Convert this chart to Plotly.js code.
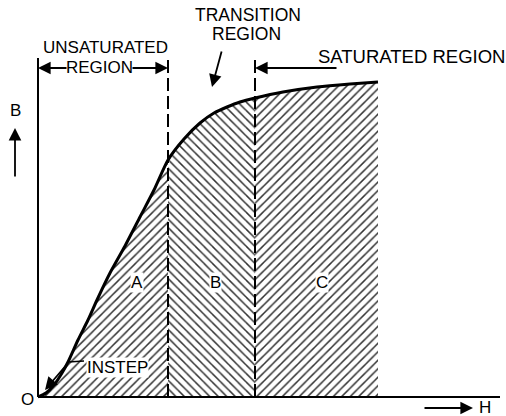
<!DOCTYPE html>
<html>
<head>
<meta charset="utf-8">
<script src="https://cdn.plot.ly/plotly-3.0.1.min.js"></script>
<style>html,body{margin:0;padding:0;background:#fff;}#chart{width:506px;height:416px;}</style>
</head>
<body>
<div id="chart"></div>
<script>
// Magnetization (B-H) curve, arbitrary units
const H = [0, 8, 16, 24, 30, 40, 50, 59, 72, 87, 102, 116, 130, 146, 162, 176, 189, 202, 217, 245, 279, 312, 340];
const B = [0, 4, 12, 24, 35, 57, 77, 97, 124, 151, 180, 207, 237, 258, 274, 284, 290, 295, 299, 305, 310, 313, 315];

// Region boundaries along H
const regionBounds = [0, 130, 217, 340];
const regionLetters = ['A', 'B', 'C'];
const regionHatch = ['/', '\\', '/'];

const FONT = 'Liberation Sans, Arial, sans-serif';
const traces = [];
for (let i = 0; i < 3; i++) {
  const lo = regionBounds[i], hi = regionBounds[i + 1];
  const xs = [], ys = [];
  H.forEach((h, k) => { if (h >= lo && h <= hi) { xs.push(h); ys.push(B[k]); } });
  traces.push({
    x: xs, y: ys, type: 'scatter', mode: 'none', fill: 'tozeroy',
    line: {shape: 'spline', smoothing: 0.6},
    fillcolor: '#ffffff',
    fillpattern: {shape: regionHatch[i], fgcolor: '#333', bgcolor: '#fff', size: 6, solidity: 0.25, fillmode: 'replace'},
    hoverinfo: 'skip'
  });
}
traces.push({
  x: H, y: B, type: 'scatter', mode: 'lines',
  line: {color: '#000', width: 3, shape: 'spline', smoothing: 0.6},
  hoverinfo: 'skip'
});

const topB = 339;
const shapes = [
  {type: 'line', x0: 0, x1: 0, y0: 0, y1: topB, line: {color: '#000', width: 2}},
  {type: 'line', x0: 0, x1: 462, y0: 0, y1: 0, line: {color: '#000', width: 2}},
  {type: 'line', x0: regionBounds[1], x1: regionBounds[1], y0: 0, y1: topB, line: {color: '#000', width: 2, dash: '13px,5px'}},
  {type: 'line', x0: regionBounds[2], x1: regionBounds[2], y0: 0, y1: topB, line: {color: '#000', width: 2, dash: '13px,5px'}},
  {type: 'line', x0: 30, x1: 46, y0: 35, y1: 36, line: {color: '#000', width: 1.5}}
];

function txt(x, y, t, size, bg) {
  return {x: x, y: y, xref: 'x', yref: 'y', text: t, showarrow: false,
    font: {family: FONT, size: size || 17, color: '#000'},
    bgcolor: bg || 'rgba(0,0,0,0)', borderpad: 0, xanchor: 'center', yanchor: 'middle'};
}
function arr(x, y, ax, ay) {
  return {x: x, y: y, ax: ax, ay: ay, xref: 'x', yref: 'y', axref: 'x', ayref: 'y',
    text: '', showarrow: true, arrowhead: 2, arrowsize: 1.4, arrowwidth: 1.8, arrowcolor: '#000', standoff: 0, startstandoff: 0};
}

const annotations = [
  txt(67, 350, 'UNSATURATED'),
  txt(61, 330, 'REGION'),
  arr(0, 329, 30, 329),
  arr(130, 329, 93, 329),
  txt(210, 382, 'TRANSITION', 17.5),
  txt(208, 363, 'REGION', 17.5),
  arr(174, 310, 184, 347),
  txt(373, 341, 'SATURATED REGION', 18.5),
  arr(217, 329, 300, 329),
  txt(-23, 287, 'B'),
  arr(-23, 269, -23, 219),
  txt(-11, -2, 'O'),
  txt(447, -10, 'H'),
  arr(435, -11, 385, -11),
  txt(79, 30, 'INSTEP', 17, '#fff'),
  arr(7, 7, 30, 34)
];
regionLetters.forEach((L, i) => {
  annotations.push(txt([99, 177, 284][i], 115, L, 17, '#fff'));
});

Plotly.newPlot('chart', traces, {
  width: 506, height: 416,
  margin: {l: 0, r: 0, t: 0, b: 0},
  paper_bgcolor: '#fff', plot_bgcolor: '#fff',
  showlegend: false,
  xaxis: {range: [-38, 468], visible: false, fixedrange: true},
  yaxis: {range: [-19, 397], visible: false, fixedrange: true},
  shapes: shapes,
  annotations: annotations
}, {staticPlot: true, displayModeBar: false});
</script>
</body>
</html>
